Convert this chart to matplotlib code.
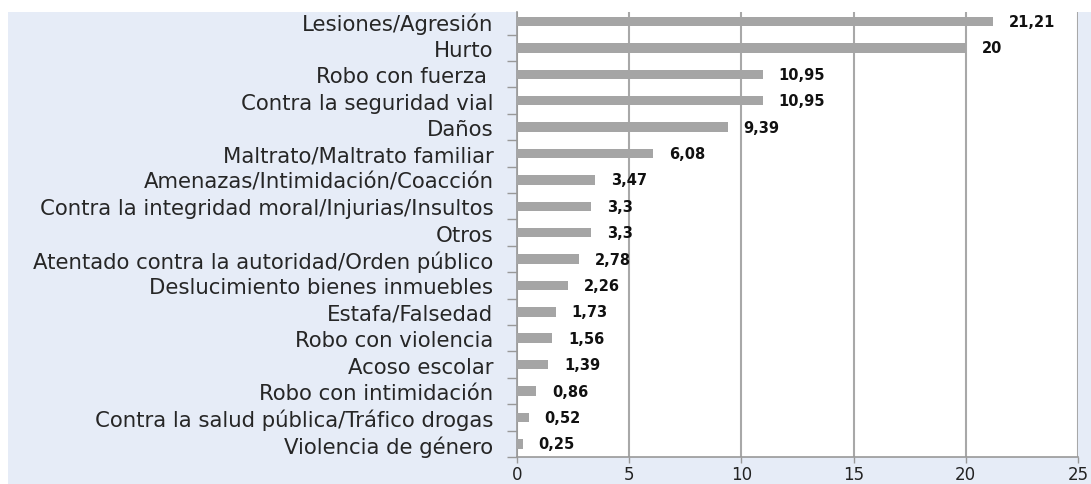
import matplotlib
matplotlib.use("Agg")
import matplotlib.pyplot as plt
from matplotlib.patches import Rectangle

categorias = ['Lesiones/Agresión', 'Hurto', 'Robo con fuerza ', 'Contra la seguridad vial',
              'Daños', 'Maltrato/Maltrato familiar', 'Amenazas/Intimidación/Coacción',
              'Contra la integridad moral/Injurias/Insultos', 'Otros',
              'Atentado contra la autoridad/Orden público', 'Deslucimiento bienes inmuebles',
              'Estafa/Falsedad', 'Robo con violencia', 'Acoso escolar',
              'Robo con intimidación', 'Contra la salud pública/Tráfico drogas',
              'Violencia de género']
valores = [21.21, 20, 10.95, 10.95, 9.39, 6.08, 3.47, 3.3, 3.3, 2.78, 2.26,
           1.73, 1.56, 1.39, 0.86, 0.52, 0.25]
etiquetas = ['21,21', '20', '10,95', '10,95', '9,39', '6,08', '3,47', '3,3', '3,3',
             '2,78', '2,26', '1,73', '1,56', '1,39', '0,86', '0,52', '0,25']
ticks_x = [0, 5, 10, 15, 20, 25]

W, H = 1091, 485
fig = plt.figure(figsize=(W / 100, H / 100), dpi=100)
fig.patch.set_facecolor('white')

# fondo azul claro del grafico
fondo = Rectangle((8 / W, 0), 1 - 8 / W, (H - 13) / H,
                  transform=fig.transFigure, facecolor='#e6ecf7',
                  edgecolor='none', zorder=-10)
fig.add_artist(fondo)

ax = fig.add_axes([517 / W, (H - 458) / H, (1078 - 517) / W, (458 - 13) / H])
ax.set_facecolor('white')

pos = list(range(len(categorias)))
ax.barh(pos, valores, height=0.36, color='#a5a5a5', zorder=3)

for p, v, t in zip(pos, valores, etiquetas):
    ax.annotate(t, (v, p), xytext=(11.5, 0), textcoords='offset points',
                va='center', ha='left', fontsize=10.5, fontweight='bold',
                family='DejaVu Sans', color='#111111')

ax.set_xlim(0, 25)
ax.set_ylim(16.5, -0.36)
ax.set_xticks(ticks_x)
ax.set_xticklabels([str(t) for t in ticks_x], family='DejaVu Sans', fontsize=12,
                   color='#222222')
ax.xaxis.grid(True, color='#a8a8a8', linewidth=1.5, zorder=1)

# ticks de categoria en los limites
ax.set_yticks([i + 0.5 for i in pos])
ax.set_yticklabels([])
ax.set_yticks(pos, minor=True)
ax.set_yticklabels(categorias, minor=True, family='DejaVu Sans', fontsize=15.3,
                   color='#262626')
ax.tick_params(axis='y', which='minor', length=0, pad=17)
ax.tick_params(axis='y', which='major', length=7, width=1, color='#999999')
ax.tick_params(axis='x', length=4, width=1, color='#999999', pad=1.5)

for s in ['top', 'right']:
    ax.spines[s].set_visible(False)
for s in ['left', 'bottom']:
    ax.spines[s].set_color('#999999')
    ax.spines[s].set_linewidth(1.2)

fig.savefig('out.png', dpi=100)
